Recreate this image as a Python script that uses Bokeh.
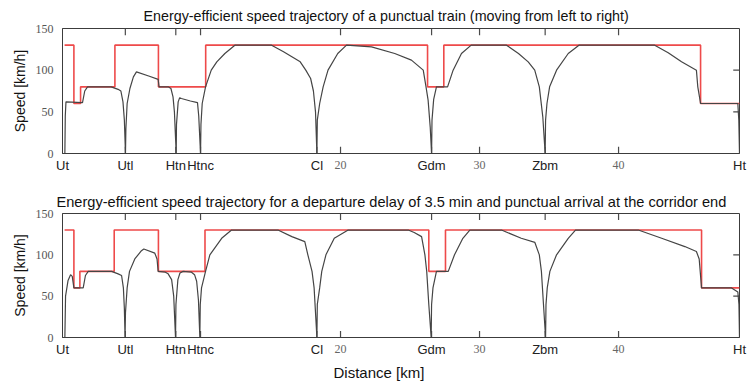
from bokeh.plotting import figure
from bokeh.models import Range1d, FixedTicker, LinearAxis, Title
from bokeh.layouts import column
from bokeh.embed import file_html
from bokeh.resources import INLINE

# ---------------- data ----------------
titles = [
    "Energy-efficient speed trajectory of a punctual train (moving from left to right)",
    "Energy-efficient speed trajectory for a departure delay of 3.5 min and punctual arrival at the corridor end",
]
x_label = "Distance [km]"
y_label = "Speed [km/h]"

stations = ["Ut", "Utl", "Htn", "Htnc", "Cl", "Gdm", "Zbm", "Ht"]
station_km = [0, 4.52, 8.15, 9.93, 18.3, 26.55, 34.72, 48.7]
km_ticks = [20, 30, 40]
speed_ticks = [0, 50, 100, 150]

# speed limit (step, value holds until next point)
limit1_km = [0.15, 0.82, 1.3, 3.77, 6.9, 10.3, 26.26, 27.43, 45.9, 48.7]
limit1_v = [130, 60, 80, 130, 80, 130, 80, 130, 60, 60]
limit2_km = [0.15, 0.82, 1.25, 3.72, 6.9, 10.25, 26.35, 27.55, 45.97, 48.7]
limit2_v = [130, 60, 80, 130, 80, 130, 80, 130, 60, 60]

# punctual train trajectory
traj1_km = [0.17, 0.2, 0.25, 1.44, 1.6, 1.8, 3.5, 4.0, 4.2, 4.35, 4.45, 4.53,
            4.56, 4.65, 4.85, 5.1, 5.32, 6.2, 6.88, 6.95, 7.6, 7.8, 7.95, 8.05, 8.18,
            8.2, 8.32, 8.43, 8.55, 9.2, 9.71, 9.8, 9.93,
            9.96, 10.05, 10.29, 10.7, 11.1, 11.68, 12.4, 15.04, 15.9, 16.5, 17.1, 17.5, 17.85, 18.05, 18.2, 18.3,
            18.33, 18.5, 18.75, 19.1, 19.8, 20.43, 22.23, 23.9, 25.1, 25.95, 26.15, 26.3, 26.45, 26.55,
            26.58, 26.7, 26.9, 27.7, 28.1, 28.7, 29.4, 31.94, 32.8, 33.5, 33.97, 34.3, 34.55, 34.72,
            34.75, 34.85, 35.04, 35.54, 36.38, 37.15, 42.6, 43.57, 44.53, 45.6, 45.7, 45.9, 48.58, 48.65, 48.7]
traj1_v = [0, 45, 62, 61, 75, 80, 80, 77, 75, 62, 40, 0,
           30, 60, 78, 92, 98, 93, 89, 80, 80, 78, 68, 50, 0,
           35, 62, 67, 66, 63, 61, 45, 0,
           35, 60, 80, 100, 110, 120, 130, 130, 122, 116, 110, 100, 90, 75, 50, 0,
           40, 60, 80, 100, 120, 130, 128, 120, 112, 100, 80, 64, 32, 0,
           40, 65, 80, 80, 100, 120, 130, 130, 120, 110, 100, 80, 44, 0,
           40, 60, 80, 100, 120, 130, 130, 121, 110, 100, 80, 60, 60, 40, 0]

# delayed departure trajectory
traj2_km = [0.17, 0.22, 0.4, 0.58, 0.7, 0.82, 1.49, 1.65, 1.85, 3.53, 4.0, 4.25, 4.38, 4.45, 4.5,
            4.53, 4.65, 4.82, 5.2, 5.68, 5.85, 6.64, 6.8, 6.88, 7.4, 7.6, 7.85, 8.0, 8.13,
            8.16, 8.3, 8.45, 8.68, 9.28, 9.5, 9.65, 9.78, 9.88,
            9.91, 10.0, 10.29, 10.6, 11.45, 12.16, 15.5, 16.5, 17.43, 17.65, 17.95, 18.1, 18.3,
            18.33, 18.5, 18.65, 18.95, 19.55, 20.55, 24.87, 25.3, 25.83, 26.07, 26.2, 26.35, 26.52,
            26.55, 26.65, 26.9, 27.75, 28.2, 28.8, 29.3, 31.58, 33.0, 33.98, 34.3, 34.45, 34.6, 34.75,
            34.78, 34.87, 35.06, 35.54, 36.38, 36.9, 41.42, 43.1, 44.77, 45.6, 45.8, 45.97, 48.13, 48.58, 48.66, 48.7]
traj2_v = [0, 50, 69, 76, 74, 60, 60, 75, 80, 80, 77, 75, 60, 35, 0,
           30, 60, 80, 95, 105, 107, 102, 95, 80, 79, 77, 70, 50, 0,
           40, 70, 78, 80, 79, 76, 68, 45, 0,
           40, 60, 80, 100, 120, 130, 130, 122, 116, 100, 80, 60, 0,
           40, 60, 80, 100, 120, 130, 130, 127, 122, 100, 80, 40, 0,
           40, 60, 80, 80, 100, 120, 130, 130, 120, 115, 100, 80, 40, 0,
           40, 60, 80, 100, 120, 130, 130, 120, 110, 104, 95, 60, 60, 55, 40, 0]

SANS = "Liberation Sans"
SERIF = "Liberation Serif"
FRAME = "#3c3c3c"
TICK = "#4a4a4a"
RED = "#ee4a4a"
TRAJ = "#454545"
X_END = station_km[-1]
Y_END = speed_ticks[-1]
TICK_V = 8      # inward tick length along the speed axis (km/h)
TICK_KM = 0.45  # inward tick length along the distance axis (km)


def make_fig(title, lim_km, lim_v, tr_km, tr_v, height, btop, bbottom, tsize, toff, tstand, xlab=None):
    p = figure(width=750, height=height, x_range=Range1d(0, X_END), y_range=Range1d(0, Y_END),
               output_backend="svg", toolbar_location=None,
               x_axis_type=None, y_axis_type=None,
               min_border_left=62, min_border_right=11,
               min_border_top=btop, min_border_bottom=bbottom)
    p.grid.visible = False
    p.outline_line_color = FRAME
    p.outline_line_width = 1
    p.background_fill_color = "white"
    p.border_fill_color = "white"

    p.title.text = title
    p.title.align = "left"
    p.title.offset = toff
    p.title.text_font = SANS
    p.title.text_font_size = tsize
    p.title.text_font_style = "normal"
    p.title.text_color = "#111111"
    p.title.standoff = tstand

    # bottom axis with station names
    xb = LinearAxis(ticker=FixedTicker(ticks=station_km),
                    major_label_overrides={k: s for k, s in zip(station_km, stations)})
    xb.major_tick_in = 0
    xb.major_tick_out = 0
    xb.minor_tick_line_color = None
    xb.axis_line_color = FRAME
    xb.major_tick_line_color = None
    xb.major_label_text_font = SANS
    xb.major_label_text_font_size = "13px"
    xb.major_label_text_color = "#222222"
    xb.major_label_standoff = 4
    p.add_layout(xb, "below")

    # kilometre numbers (serif), pulled up into the same row as the station names
    xn = LinearAxis(ticker=FixedTicker(ticks=km_ticks))
    xn.major_tick_in = 0
    xn.major_tick_out = 0
    xn.minor_tick_line_color = None
    xn.axis_line_color = None
    xn.major_tick_line_color = None
    xn.major_label_text_font = SERIF
    xn.major_label_text_font_size = "12px"
    xn.major_label_text_color = "#666666"
    xn.major_label_standoff = -15
    p.add_layout(xn, "below")

    # left axis
    yl = LinearAxis(ticker=FixedTicker(ticks=speed_ticks), axis_label=y_label)
    yl.major_tick_in = 0
    yl.major_tick_out = 0
    yl.minor_tick_line_color = None
    yl.axis_line_color = FRAME
    yl.major_label_text_font = SERIF
    yl.major_label_text_font_size = "12px"
    yl.major_label_text_color = "#555555"
    yl.major_label_standoff = 9
    yl.axis_label_text_font = SANS
    yl.axis_label_text_font_size = "14px"
    yl.axis_label_text_font_style = "normal"
    yl.axis_label_text_color = "#111111"
    yl.axis_label_standoff = 5
    p.add_layout(yl, "left")

    # inward tick marks along the frame edges
    top_ticks = station_km[1:4] + station_km[5:7] + km_ticks
    p.segment(x0=top_ticks, y0=[Y_END] * len(top_ticks), x1=top_ticks,
              y1=[Y_END - TICK_V] * len(top_ticks), line_color=TICK, line_width=1.2)
    bot_ticks = station_km[1:7] + km_ticks
    p.segment(x0=bot_ticks, y0=[0] * len(bot_ticks), x1=bot_ticks,
              y1=[TICK_V] * len(bot_ticks), line_color=TICK, line_width=1.2)
    r_ticks = speed_ticks[1:3]
    p.segment(x0=[X_END] * len(r_ticks), y0=r_ticks, x1=[X_END - TICK_KM] * len(r_ticks),
              y1=r_ticks, line_color=TICK, line_width=1.2)

    p.step(lim_km, lim_v, mode="after", line_color=RED, line_width=1.6)
    p.line(tr_km, tr_v, line_color=TRAJ, line_width=1.2)

    if xlab:
        t = Title(text=xlab, align="left", offset=271, text_font=SANS, text_font_size="15px",
                  text_font_style="normal", text_color="#111111", standoff=4)
        p.add_layout(t, "below")
    return p


p1 = make_fig(titles[0], limit1_km, limit1_v, traj1_km, traj1_v, 180, 28, 27, "14.3px", 81, 10)
p2 = make_fig(titles[1], limit2_km, limit2_v, traj2_km, traj2_v, 209, 33, 52, "14.6px", -6, 7, xlab=x_label)

layout = column(p1, p2, spacing=0)
open("out.html", "w").write(file_html(layout, INLINE))
